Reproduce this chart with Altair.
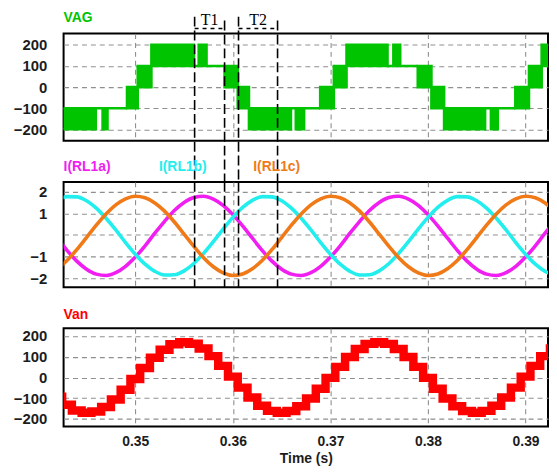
import altair as alt
import pandas as pd

# ---------------- data ----------------
# sample instants (s) for the sampled waveforms
t_samples = [0.342, 0.343, 0.344, 0.345, 0.346, 0.347, 0.348, 0.349, 0.350, 0.351,
             0.352, 0.353, 0.354, 0.355, 0.356, 0.357, 0.358, 0.359, 0.360, 0.361,
             0.362, 0.363, 0.364, 0.365, 0.366, 0.367, 0.368, 0.369, 0.370, 0.371,
             0.372, 0.373, 0.374, 0.375, 0.376, 0.377, 0.378, 0.379, 0.380, 0.381,
             0.382, 0.383, 0.384, 0.385, 0.386, 0.387, 0.388, 0.389, 0.390, 0.391,
             0.392, 0.393]

i_rl1a = [-0.15, -0.71, -1.21, -1.58, -1.81, -1.87, -1.74, -1.45, -1.02, -0.50,
          0.08, 0.63, 1.13, 1.50, 1.73, 1.79, 1.66, 1.37, 0.94, 0.42,
          -0.15, -0.71, -1.21, -1.58, -1.81, -1.87, -1.74, -1.45, -1.02, -0.50,
          0.08, 0.63, 1.13, 1.50, 1.73, 1.79, 1.66, 1.37, 0.94, 0.42,
          -0.15, -0.71, -1.21, -1.58, -1.81, -1.87, -1.74, -1.45, -1.02, -0.50,
          0.08, 0.63]
i_rl1b = [1.60, 1.77, 1.76, 1.58, 1.24, 0.77, 0.23, -0.35, -0.89, -1.35,
          -1.68, -1.85, -1.84, -1.66, -1.32, -0.85, -0.31, 0.27, 0.81, 1.27,
          1.60, 1.77, 1.76, 1.58, 1.24, 0.77, 0.23, -0.35, -0.89, -1.35,
          -1.68, -1.85, -1.84, -1.66, -1.32, -0.85, -0.31, 0.27, 0.81, 1.27,
          1.60, 1.77, 1.76, 1.58, 1.24, 0.77, 0.23, -0.35, -0.89, -1.35,
          -1.68, -1.85]
i_rl1c = [-1.56, -1.18, -0.68, -0.12, 0.45, 0.97, 1.39, 1.67, 1.79, 1.72,
          1.48, 1.10, 0.60, 0.04, -0.53, -1.05, -1.47, -1.75, -1.87, -1.80,
          -1.56, -1.18, -0.68, -0.12, 0.45, 0.97, 1.39, 1.67, 1.79, 1.72,
          1.48, 1.10, 0.60, 0.04, -0.53, -1.05, -1.47, -1.75, -1.87, -1.80,
          -1.56, -1.18, -0.68, -0.12, 0.45, 0.97, 1.39, 1.67, 1.79, 1.72,
          1.48, 1.10]
current_names = ["I(RL1a)", "I(RL1b)", "I(RL1c)"]

van = [-93, -132, -159, -170, -164, -142, -106, -59, -7, 46,
       95, 134, 160, 170, 163, 140, 103, 56, 4, -49,
       -97, -136, -161, -170, -162, -139, -101, -54, -2, 51,
       99, 137, 162, 170, 162, 137, 99, 51, -2, -54,
       -101, -139, -162, -170, -161, -136, -97, -49, 4, 56,
       103, 140]

# VAG: switching segments (start, end, lower level, upper level)
vag_t0 = [0.3420, 0.34595, 0.34665, 0.34715, 0.34915, 0.35025, 0.35165, 0.35600,
          0.35650, 0.35730, 0.35915, 0.36050, 0.36165, 0.36595, 0.36645, 0.36730,
          0.36895, 0.37035, 0.37165, 0.37585, 0.37645, 0.37715, 0.37895, 0.38035,
          0.38165, 0.38585, 0.38645, 0.38715, 0.38895, 0.39035, 0.39165]
vag_t1 = [0.34595, 0.34665, 0.34715, 0.34915, 0.35025, 0.35165, 0.35600, 0.35650,
          0.35730, 0.35915, 0.36050, 0.36165, 0.36595, 0.36645, 0.36730, 0.36895,
          0.37035, 0.37165, 0.37585, 0.37645, 0.37715, 0.37895, 0.38035, 0.38165,
          0.38585, 0.38645, 0.38715, 0.38895, 0.39035, 0.39165, 0.3930]
vag_lo = [-200, -100, -200, -100, -100, 0, 100, 100, 100, 100, 0, -100, -200, -100, -200, -100,
          -100, 0, 100, 100, 100, 100, 0, -100, -200, -100, -200, -100, -100, 0, 100]
vag_hi = [-100, -100, -100, -100, 0, 100, 200, 100, 200, 100, 100, 0, -100, -100, -100, -100,
          0, 100, 200, 100, 200, 100, 100, 0, -100, -100, -100, -100, 0, 100, 200]

# marked intervals
t_labels = ["T1", "T2"]
t_start = [0.35608, 0.36058]
t_end = [0.35915, 0.36458]

x_ticks = [0.35, 0.36, 0.37, 0.38, 0.39]
v_ticks = [-200, -100, 0, 100, 200]
i_ticks = [-2, -1, 0, 1, 2]

# ---------------- styles ----------------
GREEN = "#00c400"
RED = "#ff0000"
CUR_COLORS = ["#f01ef0", "#22eeee", "#f07a18"]
W = 488
H_TOP, H_MID, H_BOT = 108, 106, 99
GAP = 41.5

x_scale = alt.Scale(domain=[0.34265, 0.3923], nice=False, zero=False)
x_axis_hidden = alt.Axis(values=x_ticks, labels=False, ticks=False, domain=False,
                         title=None, grid=True)


def y_axis(vals, expr=None):
    kw = dict(values=vals, title=None, ticks=False, domain=False, labelPadding=17, grid=True)
    if expr:
        kw["labelExpr"] = expr
    return alt.Axis(**kw)


head_font = dict(font="Liberation Sans", fontWeight="bold", fontSize=14,
                 align="left", baseline="alphabetic")

vag_df = pd.DataFrame({"t0": vag_t0, "t1": vag_t1, "lo": vag_lo, "hi": vag_hi})
tdf = pd.DataFrame({"label": t_labels, "ts": t_start, "te": t_end})
tdf["tm"] = (tdf["ts"] + tdf["te"]) / 2

# ---------------- top panel: VAG ----------------
vag_chart = alt.Chart(vag_df).mark_rect(
    color=GREEN, stroke=GREEN, strokeWidth=2.6, clip=True
).encode(
    x=alt.X("t0:Q", scale=x_scale, axis=x_axis_hidden),
    x2="t1:Q",
    y=alt.Y("lo:Q", scale=alt.Scale(domain=[-254, 254], nice=False), axis=y_axis(v_ticks)),
    y2="hi:Q",
)

dash_kw = dict(color="black", strokeWidth=1.6, strokeDash=[10, 4])
top_start = alt.Chart(tdf).mark_rule(**dash_kw).encode(
    x="ts:Q", y=alt.value(-17), y2=alt.value(H_TOP + GAP))
top_end = alt.Chart(tdf).mark_rule(**dash_kw).encode(
    x="te:Q", y=alt.value(-13), y2=alt.value(H_TOP + GAP))
bracket = alt.Chart(tdf).mark_rule(color="black", strokeWidth=1.4, strokeDash=[4, 4]).encode(
    x="ts:Q", x2="te:Q", y=alt.value(-5))
t_text = alt.Chart(tdf).mark_text(font="Liberation Serif", fontSize=16, baseline="middle",
                                  color="black").encode(
    x="tm:Q", y=alt.value(-14), text="label:N")
vag_head = alt.Chart(pd.DataFrame({"name": ["VAG"]})).mark_text(color=GREEN, **head_font).encode(
    x=alt.value(0), y=alt.value(-11.5), text="name:N")

top = alt.layer(vag_chart, top_start, top_end, bracket, t_text, vag_head).properties(
    width=W, height=H_TOP)

# ---------------- middle panel: currents ----------------
cur_df = pd.concat([
    pd.DataFrame({"t": t_samples, "i": vals, "series": name})
    for name, vals in zip(current_names, [i_rl1a, i_rl1b, i_rl1c])
])
cur_lines = alt.Chart(cur_df).mark_line(strokeWidth=3.6, interpolate="monotone", clip=True).encode(
    x=alt.X("t:Q", scale=x_scale, axis=x_axis_hidden),
    y=alt.Y("i:Q", scale=alt.Scale(domain=[-2.41, 2.45], nice=False),
            axis=y_axis(i_ticks, "datum.value == 0 ? '' : datum.label")),
    color=alt.Color("series:N", scale=alt.Scale(domain=current_names, range=CUR_COLORS), legend=None),
    detail="series:N",
)
mid_start = alt.Chart(tdf).mark_rule(**dash_kw).encode(x="ts:Q", y=alt.value(0), y2=alt.value(H_MID))
mid_end = alt.Chart(tdf).mark_rule(**dash_kw).encode(x="te:Q", y=alt.value(0), y2=alt.value(H_MID))
heads = []
for name, col, off in zip(current_names, CUR_COLORS, [0, 96, 191]):
    heads.append(alt.Chart(pd.DataFrame({"name": [name]})).mark_text(color=col, **head_font).encode(
        x=alt.value(off), y=alt.value(-11), text="name:N"))
mid = alt.layer(cur_lines, mid_start, mid_end, *heads).properties(width=W, height=H_MID)

# ---------------- bottom panel: Van ----------------
van_df = pd.DataFrame({"t": t_samples, "v": van})
van_line = alt.Chart(van_df).mark_line(color=RED, strokeWidth=8.5, interpolate="step", clip=True).encode(
    x=alt.X("t:Q", scale=x_scale,
            axis=alt.Axis(values=x_ticks, format=".2f", ticks=False, domain=False, grid=True,
                          labelPadding=8, labelFontSize=14, title="Time (s)",
                          titleFontSize=14, titlePadding=3)),
    y=alt.Y("v:Q", scale=alt.Scale(domain=[-237, 237], nice=False), axis=y_axis(v_ticks)),
)
van_head = alt.Chart(pd.DataFrame({"name": ["Van"]})).mark_text(color=RED, **head_font).encode(
    x=alt.value(0), y=alt.value(-9), text="name:N")
bot = alt.layer(van_line, van_head).properties(width=W, height=H_BOT)

chart = alt.vconcat(top, mid, bot, spacing=GAP, bounds="flush").properties(
    padding={"left": 4, "top": 0, "right": 0, "bottom": 0},
    background="white",
).configure_view(
    stroke="black", strokeWidth=2
).configure_axis(
    labelFont="Liberation Sans", labelFontWeight="bold", labelFontSize=15, labelColor="#1c1c1c",
    titleFont="Liberation Sans", titleFontWeight="bold", titleFontSize=15, titleColor="#1c1c1c",
    gridColor="#8f8f8f", gridDash=[5, 4], gridWidth=1.1,
)

chart.save("out.html", embed_options={"renderer": "svg", "actions": False})
